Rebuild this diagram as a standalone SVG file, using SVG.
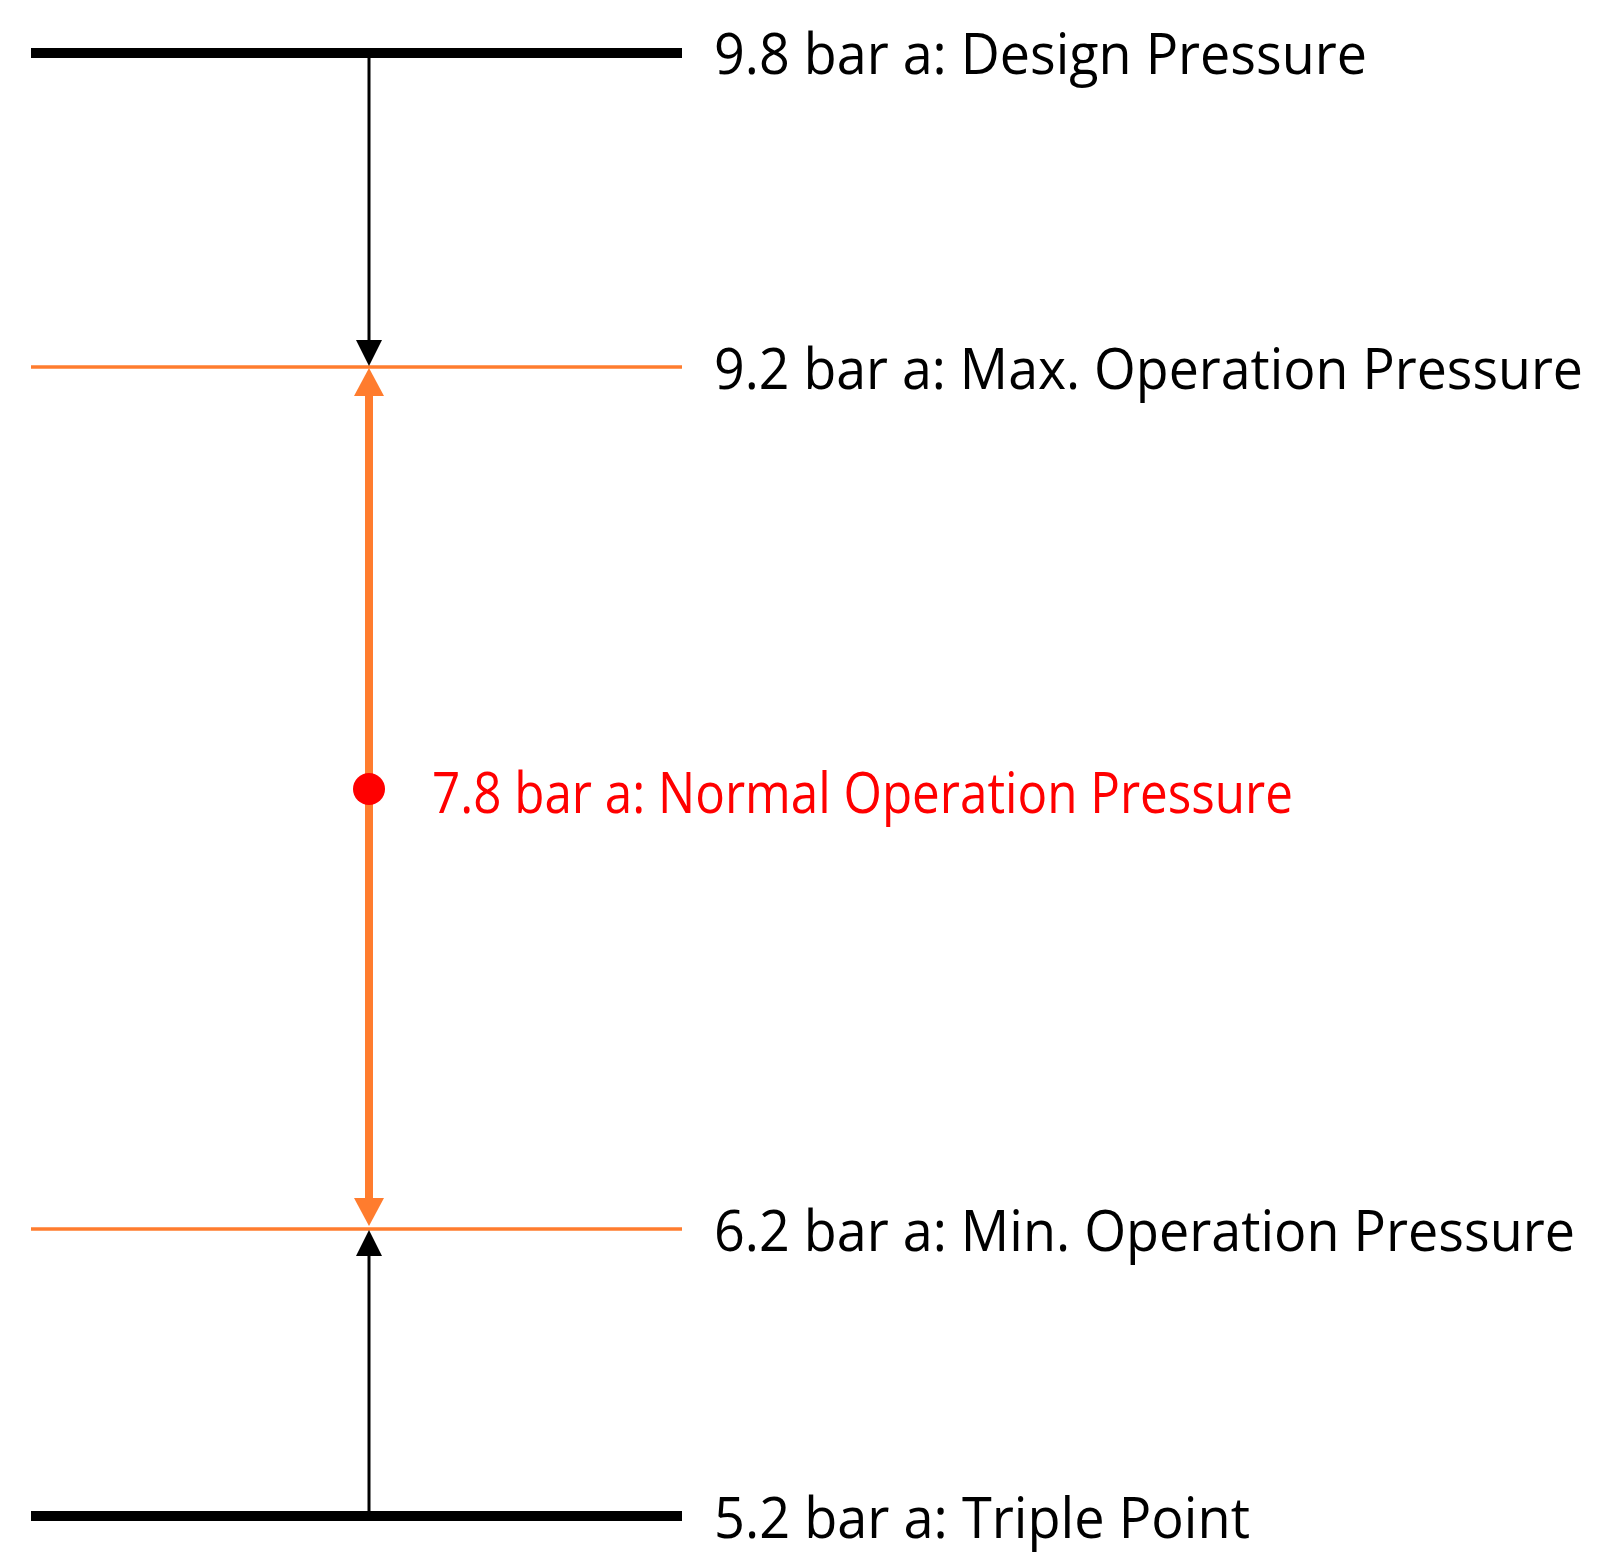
<svg xmlns="http://www.w3.org/2000/svg" width="1600" height="1561" viewBox="0 0 1600 1561">
<style>
.lbl{font-family:"Open Sans","Noto Sans","Liberation Sans",sans-serif;font-size:57px;fill:#000}
.red{fill:#FF0000}
.thick{stroke:#000;stroke-width:10}
.thin{stroke:#FF7C2E;stroke-width:3.5}
</style>
<defs>
<marker id="ab" markerUnits="userSpaceOnUse" viewBox="0 0 26 26" refX="0" refY="13" markerWidth="26" markerHeight="26" orient="auto"><path d="M0,0 L26,13 L0,26 z" fill="#000"/></marker>
<marker id="ao" markerUnits="userSpaceOnUse" viewBox="0 0 28 30" refX="0" refY="15" markerWidth="28" markerHeight="30" orient="auto-start-reverse"><path d="M0,0 L28,15 L0,30 z" fill="#FF7C2E"/></marker>
</defs>
<rect width="1600" height="1561" fill="#fff"/>
<g id="design"><line class="thick" x1="31" y1="53" x2="682" y2="53"/><text class="lbl" x="714" y="74" textLength="653" lengthAdjust="spacingAndGlyphs">9.8 bar a: Design Pressure</text></g>
<g id="max"><line class="thin" x1="31" y1="367" x2="682" y2="367"/><text class="lbl" x="714" y="389" textLength="869" lengthAdjust="spacingAndGlyphs">9.2 bar a: Max. Operation Pressure</text></g>
<g id="min"><line class="thin" x1="31" y1="1229" x2="682" y2="1229"/><text class="lbl" x="714" y="1251" textLength="861" lengthAdjust="spacingAndGlyphs">6.2 bar a: Min. Operation Pressure</text></g>
<g id="triple"><line class="thick" x1="31" y1="1516" x2="682" y2="1516"/><text class="lbl" x="714" y="1538" textLength="536" lengthAdjust="spacingAndGlyphs">5.2 bar a: Triple Point</text></g>
<g id="connectors">
<line x1="369" y1="58" x2="369" y2="340" stroke="#000" stroke-width="3" marker-end="url(#ab)"/>
<line x1="369" y1="396" x2="369" y2="1198" stroke="#FF7C2E" stroke-width="8" marker-start="url(#ao)" marker-end="url(#ao)"/>
<line x1="369" y1="1511" x2="369" y2="1256" stroke="#000" stroke-width="3" marker-end="url(#ab)"/>
</g>
<g id="normal"><circle cx="369" cy="789" r="16" fill="#FF0000"/><text class="lbl red" x="432" y="813" textLength="861" lengthAdjust="spacingAndGlyphs">7.8 bar a: Normal Operation Pressure</text></g>
</svg>
